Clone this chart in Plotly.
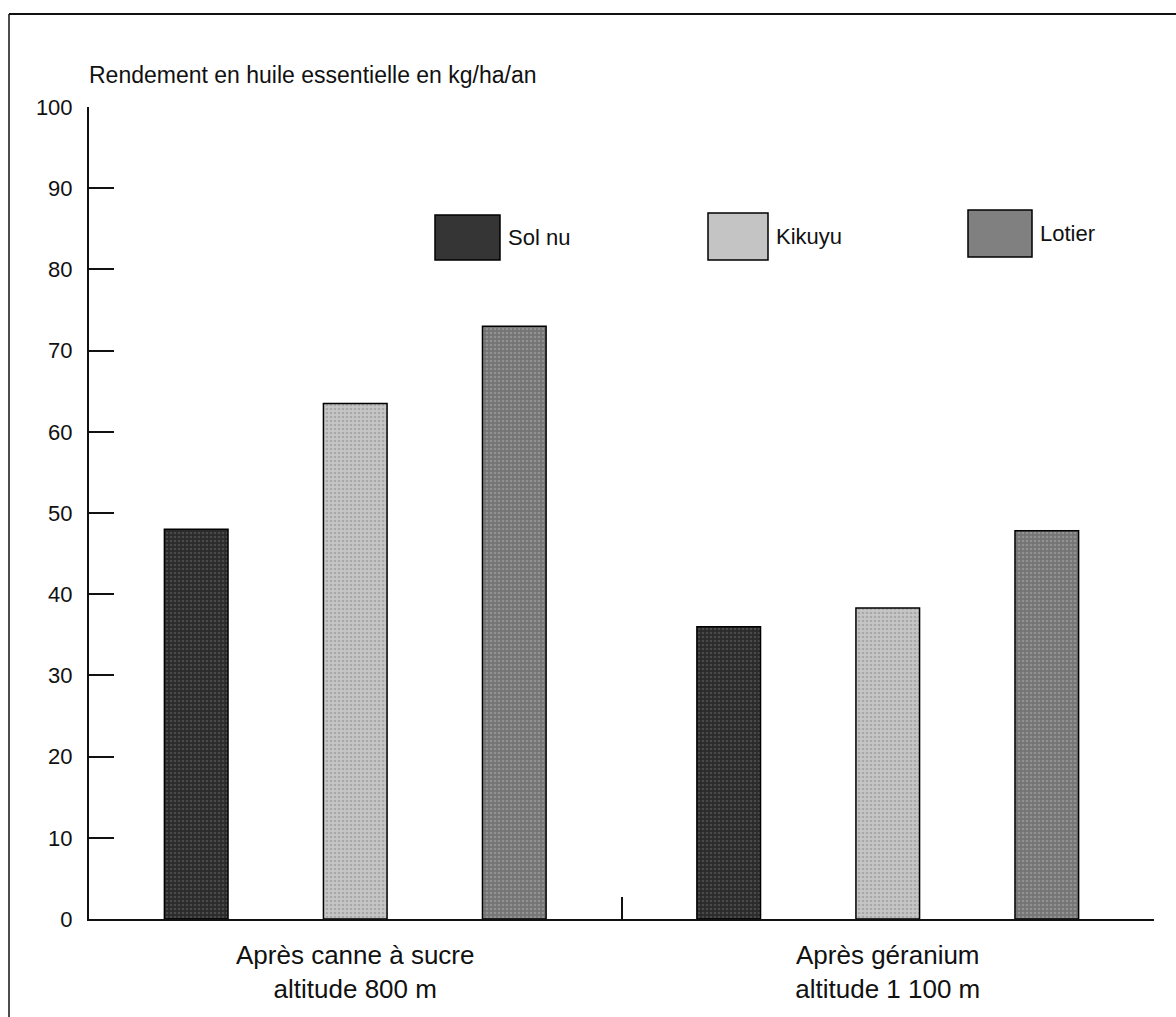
import plotly.graph_objects as go

# ---- data ----
categories = ["Après canne à sucre<br>altitude 800 m", "Après géranium<br>altitude 1 100 m"]
series_names = ["Sol nu", "Kikuyu", "Lotier"]
sol_nu = [48.0, 36.0]
kikuyu = [63.5, 38.3]
lotier = [73.0, 47.8]
y_ticks = [0, 10, 20, 30, 40, 50, 60, 70, 80, 90, 100]
y_title = "Rendement en huile essentielle en kg/ha/an"

values = [sol_nu, kikuyu, lotier]
bg_colors = ["#2a2a2a", "#c6c6c6", "#747474"]
fg_colors = ["#6a6a6a", "#8a8a8a", "#b0b0b0"]
swatch_colors = ["#353535", "#c4c4c4", "#808080"]

FONT = "Liberation Sans, Arial, Helvetica, sans-serif"

fig = go.Figure()
for name, vals, bg, fg in zip(series_names, values, bg_colors, fg_colors):
    fig.add_trace(go.Bar(
        x=categories, y=vals, name=name,
        marker=dict(color=bg, line=dict(color="#000000", width=1.5),
                    pattern=dict(shape=".", fgcolor=fg, bgcolor=bg, size=4, solidity=0.35)),
        showlegend=False,
    ))

W, H = 1176, 1017
L, R, T, B = 89, 22, 107, 98
pw, ph = W - L - R, H - T - B


def px_to_paper(xp, yp):
    return (xp - L) / pw, (H - B - yp) / ph


shapes = []
annotations = []

# custom legend: big swatches
legend_boxes = [(435, 215, 500, 260), (708, 213, 768, 260), (968, 210, 1032, 257)]
for name, col, (x0, y0, x1, y1) in zip(series_names, swatch_colors, legend_boxes):
    a0, b0 = px_to_paper(x0, y1)
    a1, b1 = px_to_paper(x1, y0)
    shapes.append(dict(type="rect", xref="paper", yref="paper", x0=a0, y0=b0, x1=a1, y1=b1,
                       fillcolor=col, line=dict(color="#000000", width=1.5)))
    tx, ty = px_to_paper(x1 + 6, (y0 + y1) / 2)
    annotations.append(dict(text=name, xref="paper", yref="paper", x=tx, y=ty,
                            xanchor="left", yanchor="middle", showarrow=False,
                            font=dict(family=FONT, size=22, color="#111111")))

# title of y axis
tx, ty = px_to_paper(87, 75)
annotations.append(dict(text=y_title, xref="paper", yref="paper", x=tx, y=ty,
                        xanchor="left", yanchor="middle", showarrow=False,
                        font=dict(family=FONT, size=23, color="#111111")))

# scanned frame: top and left border lines
fx0, fy0 = px_to_paper(9, 14)
fx1, fy1 = px_to_paper(1176, 1017)
shapes.append(dict(type="line", xref="paper", yref="paper", x0=fx0, y0=fy0, x1=fx1, y1=fy0,
                   line=dict(color="#111111", width=2)))
shapes.append(dict(type="line", xref="paper", yref="paper", x0=fx0, y0=fy0, x1=fx0, y1=fy1,
                   line=dict(color="#111111", width=1.5)))

fig.update_layout(
    width=W, height=H,
    margin=dict(l=L, r=R, t=T, b=B),
    paper_bgcolor="white", plot_bgcolor="white",
    barmode="group", bargap=0.104, bargroupgap=0.6,
    font=dict(family=FONT, size=21, color="#111111"),
    shapes=shapes, annotations=annotations,
    showlegend=False,
)
fig.update_xaxes(
    showline=True, linecolor="#111111", linewidth=2,
    ticks="inside", tickson="boundaries", ticklen=22, tickwidth=2, tickcolor="#111111",
    showgrid=False, zeroline=False, ticklabelstandoff=12,
    tickfont=dict(family=FONT, size=26, color="#111111"),
)
fig.update_yaxes(
    range=[0, 100], tickvals=y_ticks, ticktext=[str(v) for v in y_ticks],
    showline=True, linecolor="#111111", linewidth=2,
    ticks="inside", ticklen=25, tickwidth=2, tickcolor="#111111",
    showgrid=False, zeroline=False, ticklabelstandoff=10,
    tickfont=dict(family=FONT, size=22, color="#111111"),
)

fig.write_html("out.html", config={"displayModeBar": False},
               post_script="document.body.style.margin='0';document.body.style.padding='0';")
